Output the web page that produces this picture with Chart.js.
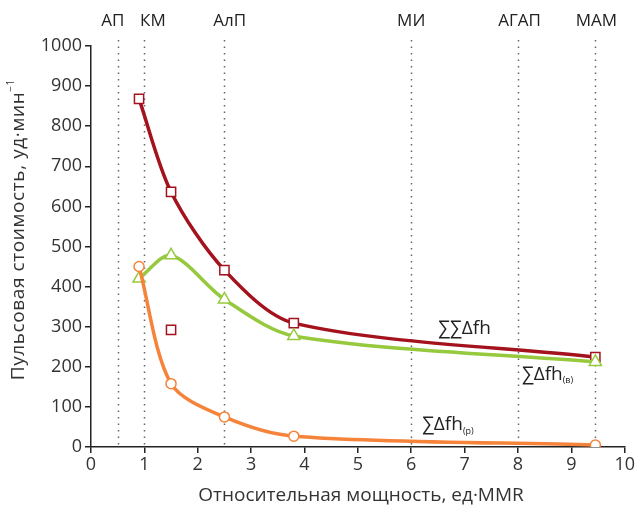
<!DOCTYPE html>
<html>
<head>
<meta charset="utf-8">
<script src="https://cdn.jsdelivr.net/npm/chart.js@4"></script>
<style>
  html, body { margin: 0; padding: 0; background: #fff; }
  #wrap { width: 636px; height: 506px; }
</style>
</head>
<body>
<div id="wrap"><canvas id="myChart" width="636" height="506"></canvas></div>
<script>
// значения мощности (ед. MMR)
var moshnost = [0.9, 1.5, 2.5, 3.8, 9.45];
// суммарная пульсовая стоимость
var sumSum = [868, 636, 441, 309, 224];
var sumV = [420, 478, 368, 277, 212];
var sumP = [450, 158, 75, 27, 5];
// отдельная точка без линии
var vybrosX = [1.5];
var vybrosY = [292];

// зоны мощности сверху
var zonyNazv = ["АП", "КМ", "АлП", "МИ", "АГАП", "МАМ"];
var zonyX = [0.5, 1.0, 2.5, 6.0, 8.0, 9.45];
var zonyNazvX = [0.41, 1.16, 2.6, 6.0, 8.03, 9.47];

// подписи кривых: текст, индекс, x, y
var podpisi = [
  { t: "∑∑Δfh", sub: "", x: 6.5, y: 295 },
  { t: "∑Δfh", sub: "(в)", x: 8.07, y: 180 },
  { t: "∑Δfh", sub: "(р)", x: 6.2, y: 55 }
];

var xTicks = [0, 1, 2, 3, 4, 5, 6, 7, 8, 9, 10];

var xTitle = 'Относительная мощность, ед·MMR';
var yTitle = 'Пульсовая стоимость, уд·мин';

function toPts(xs, ys) {
  return xs.map(function(x, i) { return { x: x, y: ys[i] }; });
}

var FONT = "'Open Sans', 'Noto Sans', sans-serif";

// линии зон, подписи и названия осей
var zonyPlugin = {
  id: 'zony',
  beforeDatasetsDraw: function(chart) {
    var ctx = chart.ctx;
    var xs = chart.scales.x, ys = chart.scales.y;
    ctx.save();
    ctx.strokeStyle = '#666';
    ctx.lineWidth = 1.5;
    ctx.setLineDash([1.5, 5]);
    zonyX.forEach(function(v) {
      var px = Math.round(xs.getPixelForValue(v)) + 0.5;
      ctx.beginPath();
      ctx.moveTo(px, ys.top - 6);
      ctx.lineTo(px, ys.bottom);
      ctx.stroke();
    });
    ctx.setLineDash([]);
    ctx.fillStyle = '#222';
    ctx.font = '17px ' + FONT;
    ctx.textAlign = 'center';
    ctx.textBaseline = 'middle';
    zonyNazv.forEach(function(n, i) {
      ctx.fillText(n, xs.getPixelForValue(zonyNazvX[i]), 21);
    });
    ctx.restore();
  },
  afterDatasetsDraw: function(chart) {
    var ctx = chart.ctx;
    var xs = chart.scales.x, ys = chart.scales.y;
    ctx.save();
    ctx.fillStyle = '#222';
    ctx.textAlign = 'left';
    ctx.textBaseline = 'middle';
    podpisi.forEach(function(p) {
      var px = xs.getPixelForValue(p.x), py = ys.getPixelForValue(p.y);
      ctx.font = '19px ' + FONT;
      ctx.fillText(p.t, px, py);
      if (p.sub) {
        var w = ctx.measureText(p.t).width;
        ctx.font = '9px ' + FONT;
        ctx.fillText(p.sub, px + w, py + 6);
      }
    });

    // название оси X
    ctx.fillStyle = '#333';
    ctx.font = '19px ' + FONT;
    ctx.textAlign = 'center';
    ctx.fillText(xTitle, 361, 496);

    // название оси Y (повёрнуто)
    ctx.save();
    ctx.translate(19, 232);
    ctx.rotate(-Math.PI / 2);
    ctx.font = '19px ' + FONT;
    ctx.letterSpacing = '0.6px';
    var w = ctx.measureText(yTitle).width;
    var sw = 8;
    ctx.textAlign = 'left';
    ctx.fillText(yTitle, -(w + sw) / 2, 0);
    ctx.font = '10px ' + FONT;
    ctx.fillText('−1', -(w + sw) / 2 + w, -8);
    ctx.restore();
    ctx.restore();
  }
};

var ctx = document.getElementById('myChart').getContext('2d');
var myChart = new Chart(ctx, {
  type: 'line',
  data: {
    datasets: [
      {
        label: '∑Δfh(р)',
        data: toPts(moshnost, sumP),
        borderColor: '#f5843a',
        backgroundColor: '#fff',
        borderWidth: 3.5,
        pointStyle: 'circle',
        pointRadius: 5,
        pointBorderWidth: 1.5,
        tension: 0.3
      },
      {
        label: '∑Δfh(в)',
        data: toPts(moshnost, sumV),
        borderColor: '#96c93d',
        backgroundColor: '#fff',
        borderWidth: 3.5,
        pointStyle: 'triangle',
        pointRadius: 7,
        pointBorderWidth: 1.5,
        tension: 0.3
      },
      {
        label: '∑∑Δfh',
        data: toPts(moshnost, sumSum),
        borderColor: '#a3121d',
        backgroundColor: '#fff',
        borderWidth: 3.5,
        pointStyle: 'rect',
        pointRadius: 6.5,
        pointBorderWidth: 1.5,
        tension: 0.3
      },
      {
        label: 'выброс',
        data: toPts(vybrosX, vybrosY),
        showLine: false,
        borderColor: '#a3121d',
        backgroundColor: '#fff',
        pointStyle: 'rect',
        pointRadius: 6.5,
        pointBorderWidth: 1.5
      }
    ]
  },
  options: {
    responsive: false,
    animation: false,
    layout: { padding: { top: 46, right: 11, left: 0, bottom: 0 } },
    plugins: {
      legend: { display: false },
      tooltip: { enabled: false }
    },
    scales: {
      x: {
        type: 'linear',
        min: 0,
        max: 10,
        afterBuildTicks: function(axis) {
          axis.ticks = xTicks.map(function(v) { return { value: v }; });
        },
        afterFit: function(axis) { axis.height = 59; },
        grid: { drawOnChartArea: false, drawTicks: true, tickLength: 6, color: '#222', lineWidth: 1.5 },
        border: { color: '#222', width: 1.5 },
        ticks: { color: '#333', font: { size: 18, family: FONT }, padding: 1, maxRotation: 0,
                 callback: function(v) { return String(v); } },
        title: { display: false }
      },
      y: {
        min: 0,
        max: 1000,
        ticks: { stepSize: 100, color: '#333', font: { size: 18, family: FONT }, padding: 3,
                 callback: function(v) { return String(v); } },
        afterFit: function(axis) { axis.width = 91; },
        grid: { drawOnChartArea: false, drawTicks: true, tickLength: 6, color: '#222', lineWidth: 1.5 },
        border: { color: '#222', width: 1.5 },
        title: { display: false }
      }
    }
  },
  plugins: [zonyPlugin]
});
</script>
</body>
</html>
